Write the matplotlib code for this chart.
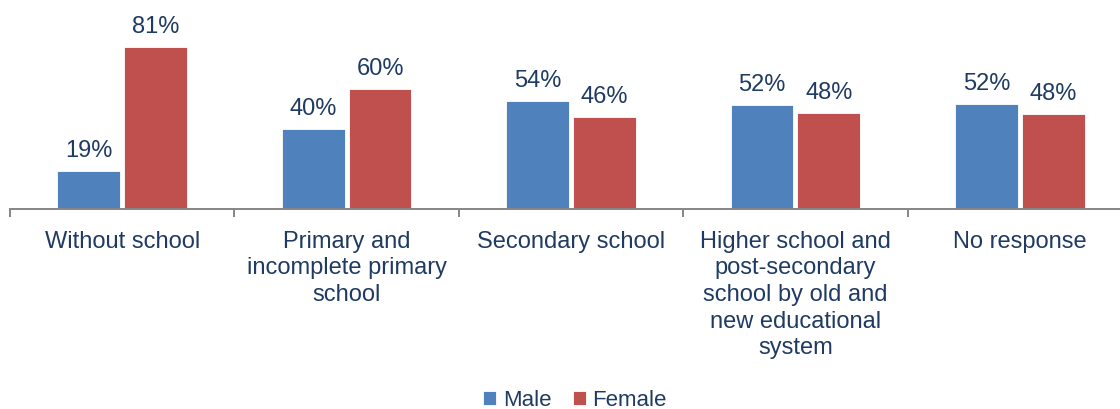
import matplotlib
matplotlib.use("Agg")
import matplotlib.pyplot as plt
import numpy as np

categories = [
    "Without school",
    "Primary and\nincomplete primary\nschool",
    "Secondary school",
    "Higher school and\npost-secondary\nschool by old and\nnew educational\nsystem",
    "No response",
]
male = [19, 40, 54, 52, 52.4]
female = [81, 60, 46, 48, 47.6]
series_names = ["Male", "Female"]

BLUE = "#4F81BD"
RED = "#C0504D"
TEXT = "#1F3B63"
AXIS = "#868686"

plt.rcParams['font.family'] = ['Liberation Sans', 'DejaVu Sans']

W, H = 1120, 410
fig = plt.figure(figsize=(W / 100, H / 100), dpi=100)
ax = fig.add_axes([10 / W, 200 / H, 1122 / W, 200 / H])

x = np.arange(len(categories))
bw = 0.28
off = 0.149
b1 = ax.bar(x - off, male, bw, color=BLUE, edgecolor="white", linewidth=0.6, label=series_names[0])
b2 = ax.bar(x + off, female, bw, color=RED, edgecolor="white", linewidth=0.6, label=series_names[1])

for bars, vals in ((b1, male), (b2, female)):
    for rect, v in zip(bars, vals):
        ax.annotate(f"{v:.0f}%", (rect.get_x() + rect.get_width() / 2, rect.get_height()),
                    xytext=(0, 11), textcoords="offset points", ha="center", va="baseline",
                    fontsize=17, color=TEXT, annotation_clip=False)

ax.set_xlim(-0.5, len(categories) - 0.5)
ax.set_ylim(0, 100)
for s in ("top", "right", "left"):
    ax.spines[s].set_visible(False)
ax.spines["bottom"].set_color(AXIS)
ax.spines["bottom"].set_linewidth(1.4)
ax.set_yticks([])
ax.set_xticks(x)
ax.set_xticklabels(categories, fontsize=17, color=TEXT, linespacing=1.27, va="top")
ax.tick_params(axis="x", which="major", length=0, pad=15)
ax.set_xticks(np.arange(-0.5, len(categories) + 0.5, 1), minor=True)
ax.tick_params(axis="x", which="minor", length=6, width=1.4, color=AXIS)

fig.legend(handles=[b1, b2], labels=series_names, loc="center",
           bbox_to_anchor=(575 / W, 1 - 401 / H), ncol=2, frameon=False,
           fontsize=16, handlelength=0.6, handleheight=0.6, handletextpad=0.3,
           columnspacing=0.95, labelcolor=TEXT, borderaxespad=0, borderpad=0)

fig.savefig("out.png", dpi=100)
